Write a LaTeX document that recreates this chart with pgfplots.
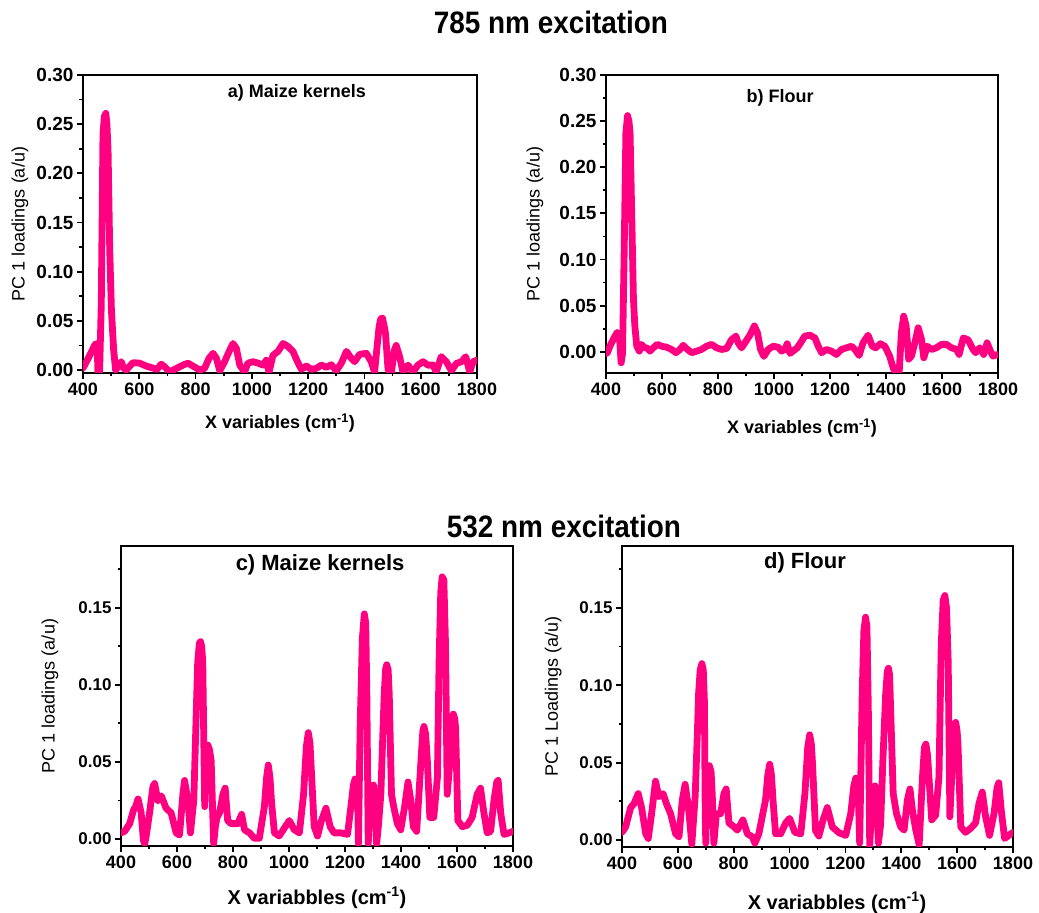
\documentclass[border=0pt]{standalone}
\usepackage{fontspec}
\setmainfont{Liberation Sans}
\usepackage{pgfplots}
\pgfplotsset{compat=1.18}
\definecolor{pinkline}{RGB}{255,0,128}
\newcommand{\fs}[1]{\fontsize{#1}{#1}\selectfont}
\pgfplotsset{
  panel/.style={
    scale only axis, xmin=400, xmax=1800, clip=true,
    axis line style={line width=2.4pt},
    tick align=outside, tick pos=left,
    major tick length=6pt, minor tick length=3.5pt,
    tick style={line width=1.8pt, black},
    xtick={400,600,...,1800}, minor xtick={500,700,...,1700},
    /pgf/number format/assume math mode=true,
    x tick label style={font=\bfseries\fs{18}, /pgf/number format/1000 sep={}},
    y tick label style={/pgf/number format/fixed, /pgf/number format/fixed zerofill, /pgf/number format/precision=2},
  },
  spec/.style={color=pinkline, line width=6.8pt, line join=round, line cap=round, no markers},
}
\begin{document}
\begin{tikzpicture}[x=1pt,y=1pt]
\path[use as bounding box] (0,0) rectangle (1039,913);
\node[font=\bfseries\fs{31}, xscale=0.9] at (551,891) {785 nm excitation};
\node[font=\bfseries\fs{31}, xscale=0.9] at (564,387) {532 nm excitation};

% a) 785 maize kernels
\begin{axis}[panel, at={(83pt,540pt)}, anchor=south west, width=394pt, height=298pt,
  ymin=-0.003, ymax=0.30, ytick={0,0.05,0.1,0.15,0.2,0.25,0.3}, minor ytick={0.025,0.075,0.125,0.175,0.225,0.275},
  y tick label style={font=\bfseries\fs{19}},
  xlabel={X variables (cm\textsuperscript{-1})}, ylabel={PC 1 loadings (a/u)},
  xlabel style={at={(axis description cs:0.5,-0.168)}, anchor=center, font=\bfseries\fs{18}},
  ylabel style={at={(axis description cs:-0.160,0.5)}, anchor=center, rotate=0, font=\fs{18}}]
\addplot[spec] coordinates {(400,0.002)(406,0.005)(424,0.015)(441,0.025)(447,0.027)(451,0.02)(453,-0.002)(459,-0.002)(465,0.068)(471,0.24)(476,0.258)(481,0.261)(485,0.25)(489,0.224)(495,0.122)(501,0.061)(509,0.020)(516,0.000)(528,0.005)(536,0.0085)(544,0.002)(554,0.000)(566,0.004)(578,0.0075)(601,0.007)(625,0.004)(649,0.002)(663,0.0007)(678,0.006)(690,0.0034)(708,-0.002)(732,0.0017)(755,0.005)(773,0.007)(791,0.004)(815,0.000)(832,0.0017)(848,0.012)(862,0.017)(874,0.012)(886,-0.0007)(903,0.0085)(921,0.020)(933,0.027)(945,0.022)(957,0.005)(974,-0.002)(986,0.007)(1004,0.0085)(1022,0.007)(1040,0.005)(1051,0.010)(1061,-0.002)(1075,0.015)(1093,0.019)(1111,0.027)(1128,0.024)(1146,0.019)(1162,0.0085)(1176,0.0007)(1194,0.004)(1211,0.0007)(1229,0.0017)(1247,0.005)(1265,0.0027)(1282,0.0054)(1300,-0.0007)(1318,0.007)(1336,0.019)(1353,0.012)(1365,0.0085)(1383,0.016)(1407,0.017)(1424,0.0085)(1436,-0.002)(1452,0.044)(1458,0.052)(1464,0.053)(1470,0.045)(1475,0.037)(1484,0.000)(1496,-0.002)(1506,0.02)(1513,0.025)(1525,0.0136)(1537,-0.002)(1555,0.005)(1573,-0.002)(1590,0.005)(1608,0.0085)(1626,0.005)(1644,0.005)(1655,-0.002)(1673,0.0136)(1691,0.0085)(1709,-0.0007)(1727,0.0068)(1745,0.0085)(1760,0.0136)(1774,-0.002)(1786,0.0085)(1800,0.010)};
\node[font=\bfseries\fs{18}] at (axis description cs:0.543,0.94) {a) Maize kernels};
\end{axis}

% b) 785 flour
\begin{axis}[panel, at={(606pt,540pt)}, anchor=south west, width=392pt, height=298pt,
  ymin=-0.023, ymax=0.30, ytick={0,0.05,0.1,0.15,0.2,0.25,0.3}, minor ytick={0.025,0.075,0.125,0.175,0.225,0.275},
  y tick label style={font=\bfseries\fs{19}},
  xlabel={X variables (cm\textsuperscript{-1})}, ylabel={PC 1 loadings (a/u)},
  xlabel style={at={(axis description cs:0.5,-0.185)}, anchor=center, font=\bfseries\fs{18}},
  ylabel style={at={(axis description cs:-0.181,0.5)}, anchor=center, rotate=0, font=\fs{18}}]
\addplot[spec] coordinates {(400,-0.002)(405,-0.001)(414,0.006)(432,0.017)(440,0.021)(448,0.017)(454,-0.012)(459,-0.002)(465,0.11)(471,0.237)(477,0.256)(482,0.25)(486,0.237)(492,0.147)(498,0.057)(503,0.028)(510,0.006)(519,0.0007)(527,0.008)(536,0.0043)(545,0.0043)(557,0.0007)(569,0.0043)(583,0.008)(599,0.006)(616,0.005)(634,0.0025)(650,-0.001)(664,0.0025)(676,0.007)(688,0.0032)(706,-0.001)(724,0.0007)(741,0.0025)(759,0.006)(777,0.008)(795,0.0043)(813,0.0025)(831,0.0036)(848,0.013)(864,0.017)(872,0.0097)(884,0.0043)(896,0.0097)(914,0.018)(930,0.028)(941,0.0205)(952,0.0025)(964,-0.005)(979,0.0025)(997,0.006)(1015,0.005)(1027,0.0007)(1039,0.0025)(1047,0.0087)(1057,-0.0018)(1068,0.0007)(1083,0.0043)(1095,0.0097)(1110,0.017)(1128,0.018)(1146,0.015)(1158,0.006)(1170,-0.001)(1187,0.0025)(1205,0.0007)(1223,-0.0029)(1241,0.0025)(1259,0.0043)(1277,0.006)(1289,0.0025)(1304,-0.004)(1318,0.0097)(1336,0.018)(1351,0.006)(1363,0.0043)(1380,0.0087)(1396,0.006)(1413,-0.0047)(1425,-0.017)(1437,-0.0245)(1447,-0.0227)(1455,0.021)(1463,0.0386)(1472,0.028)(1481,-0.008)(1491,-0.0047)(1503,0.0097)(1515,0.026)(1527,0.0133)(1535,-0.0065)(1547,0.006)(1563,0.0025)(1580,0.0043)(1598,0.008)(1616,0.008)(1634,0.0043)(1652,0.0025)(1661,-0.0029)(1676,0.015)(1693,0.013)(1711,0.0025)(1720,-0.001)(1735,0.0043)(1749,-0.0029)(1761,0.0097)(1773,0.0007)(1782,-0.0047)(1797,-0.0029)};
\node[font=\bfseries\fs{18}] at (axis description cs:0.444,0.923) {b) Flour};
\end{axis}

% c) 532 maize kernels
\begin{axis}[panel, at={(121pt,67pt)}, anchor=south west, width=392pt, height=300pt,
  ymin=-0.0045, ymax=0.19, ytick={0,0.05,0.1,0.15}, minor ytick={0.025,0.075,0.125,0.175},
  y tick label style={font=\bfseries\fs{17}},
  xlabel={X variabbles (cm\textsuperscript{-1})}, ylabel={PC 1 loadings (a/u)},
  xlabel style={at={(axis description cs:0.5,-0.173)}, anchor=center, font=\bfseries\fs{20}},
  ylabel style={at={(axis description cs:-0.181,0.5)}, anchor=center, rotate=0, font=\fs{18}}]
\addplot[spec] coordinates {(400,0.004)(413,0.005)(431,0.010)(445,0.019)(452,0.021)(461,0.026)(472,0.017)(480,-0.001)(485,-0.003)(490,0.002)(502,0.017)(514,0.034)(520,0.036)(532,0.025)(544,0.028)(561,0.020)(579,0.017)(597,0.004)(609,0.0026)(621,0.029)(627,0.038)(639,0.025)(648,0.004)(660,0.025)(670,0.09)(674,0.115)(680,0.127)(684,0.128)(688,0.125)(692,0.115)(696,0.06)(699,0.021)(703,0.05)(710,0.061)(716,0.058)(722,0.051)(727,0.02)(731,-0.003)(737,0.008)(743,0.014)(752,0.017)(764,0.029)(772,0.033)(781,0.012)(793,0.010)(805,0.010)(817,0.010)(831,0.016)(841,0.006)(859,0.004)(876,0.0005)(894,0.0005)(912,0.021)(920,0.04)(926,0.048)(932,0.04)(938,0.023)(948,0.004)(965,0.002)(983,0.007)(1001,0.012)(1019,0.006)(1037,0.004)(1052,0.029)(1062,0.06)(1069,0.069)(1075,0.062)(1078,0.051)(1090,0.008)(1102,0.002)(1116,0.012)(1132,0.020)(1147,0.008)(1161,0.004)(1185,0.004)(1209,0.003)(1221,0.021)(1230,0.035)(1236,0.039)(1242,0.035)(1245,0.029)(1248,-0.003)(1254,0.072)(1262,0.13)(1269,0.146)(1274,0.14)(1278,0.094)(1283,-0.003)(1292,0.029)(1302,0.035)(1308,0.025)(1313,-0.003)(1320,0.01)(1328,0.029)(1340,0.094)(1345,0.11)(1349,0.113)(1354,0.11)(1358,0.094)(1366,0.029)(1375,0.020)(1387,0.010)(1399,0.006)(1413,0.021)(1425,0.037)(1435,0.025)(1444,0.008)(1456,0.005)(1470,0.047)(1478,0.07)(1482,0.073)(1488,0.068)(1494,0.051)(1503,0.014)(1517,0.014)(1530,0.040)(1536,0.115)(1542,0.16)(1547,0.170)(1553,0.168)(1559,0.126)(1565,0.029)(1575,0.051)(1582,0.078)(1587,0.081)(1592,0.078)(1595,0.072)(1603,0.012)(1619,0.008)(1637,0.009)(1654,0.014)(1672,0.029)(1684,0.033)(1696,0.017)(1708,0.004)(1720,0.005)(1732,0.025)(1742,0.037)(1747,0.038)(1756,0.017)(1768,0.003)(1786,0.004)(1800,0.005)};
\node[font=\bfseries\fs{22}] at (axis description cs:0.508,0.937) {c) Maize kernels};
\end{axis}

% d) 532 flour
\begin{axis}[panel, at={(622pt,66pt)}, anchor=south west, width=391pt, height=301pt,
  ymin=-0.0045, ymax=0.19, ytick={0,0.05,0.1,0.15}, minor ytick={0.025,0.075,0.125,0.175},
  y tick label style={font=\bfseries\fs{17}},
  xlabel={X variabbles (cm\textsuperscript{-1})}, ylabel={PC 1 Loadings (a/u)},
  xlabel style={at={(axis description cs:0.55,-0.186)}, anchor=center, font=\bfseries\fs{20}},
  ylabel style={at={(axis description cs:-0.176,0.5)}, anchor=center, rotate=0, font=\fs{18}}]
\addplot[spec] coordinates {(400,0.005)(413,0.0085)(431,0.021)(443,0.0235)(458,0.030)(470,0.021)(485,0.004)(494,0.001)(506,0.017)(520,0.038)(532,0.028)(547,0.030)(559,0.0235)(574,0.017)(592,0.004)(604,0.002)(616,0.026)(626,0.036)(638,0.021)(650,-0.0026)(662,0.028)(670,0.07)(674,0.094)(680,0.11)(686,0.114)(691,0.11)(695,0.09)(698,0.017)(700,-0.002)(705,0.04)(713,0.048)(719,0.044)(723,0.03)(729,-0.002)(738,0.017)(753,0.017)(765,0.030)(773,0.033)(783,0.011)(801,0.0085)(813,0.0064)(833,0.013)(849,0.004)(867,0.002)(876,-0.002)(890,0.004)(914,0.026)(922,0.042)(929,0.049)(935,0.042)(941,0.025)(950,0.004)(968,0.004)(986,0.011)(1000,0.014)(1019,0.005)(1040,0.004)(1055,0.030)(1065,0.06)(1072,0.068)(1078,0.062)(1082,0.05)(1093,0.006)(1105,0.0026)(1120,0.013)(1135,0.021)(1153,0.0085)(1177,0.0047)(1201,0.003)(1219,0.017)(1230,0.035)(1237,0.040)(1243,0.035)(1246,0.03)(1251,-0.002)(1260,0.094)(1266,0.135)(1272,0.144)(1277,0.138)(1282,0.084)(1287,-0.004)(1296,0.030)(1306,0.035)(1312,0.025)(1318,-0.002)(1326,0.01)(1334,0.051)(1344,0.094)(1350,0.109)(1354,0.111)(1358,0.107)(1362,0.084)(1371,0.030)(1383,0.017)(1398,0.0085)(1410,0.0064)(1422,0.026)(1431,0.033)(1440,0.019)(1452,0.0064)(1464,-0.003)(1476,0.041)(1483,0.06)(1488,0.062)(1494,0.055)(1499,0.041)(1509,0.013)(1523,0.016)(1535,0.041)(1543,0.126)(1550,0.155)(1556,0.158)(1562,0.15)(1568,0.115)(1574,0.015)(1583,0.051)(1590,0.073)(1595,0.076)(1600,0.07)(1603,0.062)(1613,0.0085)(1630,0.005)(1648,0.0075)(1666,0.011)(1678,0.0235)(1690,0.031)(1702,0.015)(1716,0.003)(1732,0.017)(1743,0.034)(1749,0.037)(1758,0.019)(1770,0.001)(1785,0.003)(1800,0.005)};
\node[font=\bfseries\fs{22}] at (axis description cs:0.468,0.944) {d) Flour};
\end{axis}
\end{tikzpicture}
\end{document}
